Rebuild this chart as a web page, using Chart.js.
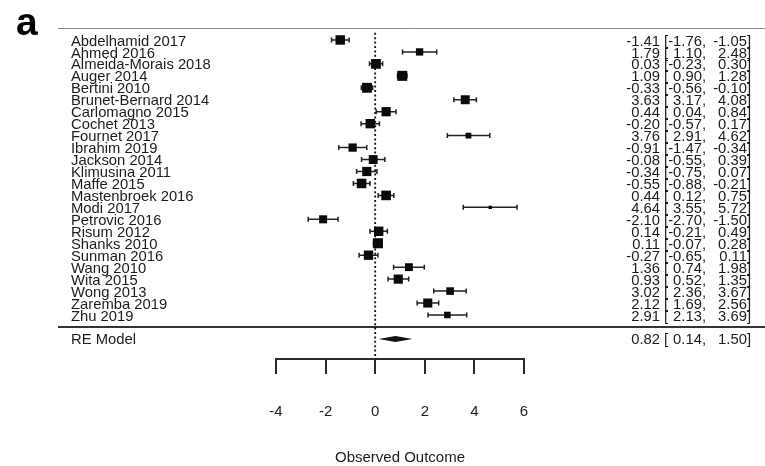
<!DOCTYPE html>
<html>
<head>
<meta charset="utf-8">
<script src="https://cdn.jsdelivr.net/npm/chart.js@4"></script>
<style>
  body { margin: 0; background: #fff; }
  #wrap { width: 765px; height: 466px; }
</style>
</head>
<body>
<div id="wrap"><canvas id="forest" width="765" height="466"></canvas></div>
<script>
// Studies (top to bottom) and their effect sizes with 95% CI
const studies = [
  'Abdelhamid 2017', 'Ahmed 2016', 'Almeida-Morais 2018', 'Auger 2014', 'Bertini 2010',
  'Brunet-Bernard 2014', 'Carlomagno 2015', 'Cochet 2013', 'Fournet 2017', 'Ibrahim 2019',
  'Jackson 2014', 'Klimusina 2011', 'Maffe 2015', 'Mastenbroek 2016', 'Modi 2017',
  'Petrovic 2016', 'Risum 2012', 'Shanks 2010', 'Sunman 2016', 'Wang 2010',
  'Wita 2015', 'Wong 2013', 'Zaremba 2019', 'Zhu 2019'
];
const estimates = [-1.41, 1.79, 0.03, 1.09, -0.33, 3.63, 0.44, -0.20, 3.76, -0.91,
  -0.08, -0.34, -0.55, 0.44, 4.64, -2.10, 0.14, 0.11, -0.27, 1.36,
  0.93, 3.02, 2.12, 2.91];
const lowerCI = [-1.76, 1.10, -0.23, 0.90, -0.56, 3.17, 0.04, -0.57, 2.91, -1.47,
  -0.55, -0.75, -0.88, 0.12, 3.55, -2.70, -0.21, -0.07, -0.65, 0.74,
  0.52, 2.36, 1.69, 2.13];
const upperCI = [-1.05, 2.48, 0.30, 1.28, -0.10, 4.08, 0.84, 0.17, 4.62, -0.34,
  0.39, 0.07, -0.21, 0.75, 5.72, -1.50, 0.49, 0.28, 0.11, 1.98,
  1.35, 3.67, 2.56, 3.69];

// Random-effects summary
const reLabel = 'RE Model';
const reEstimate = [0.82];
const reCI = [0.14, 1.50];

const xTicks = [-4, -2, 0, 2, 4, 6];
const xTitle = 'Observed Outcome';
const panelLetter = 'a';

const FONT = "'Liberation Sans', Arial, sans-serif";
const INK = '#1c1c1c';

// Marker size like metafor: sqrt of RE weights, rescaled to 0.5 .. 1.5
function tamanhosMarcadores() {
  const tau2 = 2.85;
  const w = lowerCI.map((lo, i) => {
    const se = (upperCI[i] - lo) / 3.92;
    return Math.sqrt(1 / (se * se + tau2));
  });
  const min = Math.min(...w), max = Math.max(...w);
  return w.map(v => {
    const ps = (v - min) / (max - min) + 0.5;
    const side = ps * 6.7;
    return side / Math.SQRT2;
  });
}

function textoValor(ctx, v, x, yy, align) {
  ctx.textAlign = align;
  ctx.fillText(v, x, yy);
}

// Draws the whiskers, reference lines, summary diamond and text columns
const forestPlugin = {
  id: 'forest',
  beforeDatasetsDraw(chart) {
    const { ctx, scales: { x, y } } = chart;
    ctx.save();

    // top rule and separator above the summary row
    ctx.strokeStyle = '#8a8a8a';
    ctx.lineWidth = 1;
    ctx.beginPath();
    ctx.moveTo(58, y.getPixelForValue(0) + 0.5);
    ctx.lineTo(765, y.getPixelForValue(0) + 0.5);
    ctx.stroke();

    ctx.strokeStyle = '#333';
    ctx.lineWidth = 2;
    ctx.beginPath();
    ctx.moveTo(58, y.getPixelForValue(25));
    ctx.lineTo(765, y.getPixelForValue(25));
    ctx.stroke();

    // dotted line at zero
    const x0 = x.getPixelForValue(0);
    ctx.strokeStyle = '#111';
    ctx.lineWidth = 1.8;
    ctx.setLineDash([2, 2.4]);
    ctx.beginPath();
    ctx.moveTo(x0, y.getPixelForValue(0.4));
    ctx.lineTo(x0, chart.chartArea.bottom);
    ctx.stroke();
    ctx.setLineDash([]);

    // confidence intervals with end caps
    ctx.strokeStyle = '#222';
    ctx.lineWidth = 1.5;
    studies.forEach((s, i) => {
      const yy = y.getPixelForValue(i + 1);
      const xl = x.getPixelForValue(lowerCI[i]);
      const xu = x.getPixelForValue(upperCI[i]);
      ctx.beginPath();
      ctx.moveTo(xl, yy);
      ctx.lineTo(xu, yy);
      ctx.moveTo(xl, yy - 2.5);
      ctx.lineTo(xl, yy + 2.5);
      ctx.moveTo(xu, yy - 2.5);
      ctx.lineTo(xu, yy + 2.5);
      ctx.stroke();
    });
    ctx.restore();
  },
  afterDatasetsDraw(chart) {
    const { ctx, scales: { x, y } } = chart;
    ctx.save();

    // summary diamond
    const yr = y.getPixelForValue(26);
    ctx.fillStyle = '#111';
    ctx.beginPath();
    ctx.moveTo(x.getPixelForValue(reCI[0]), yr);
    ctx.lineTo(x.getPixelForValue(reEstimate[0]), yr - 3);
    ctx.lineTo(x.getPixelForValue(reCI[1]), yr);
    ctx.lineTo(x.getPixelForValue(reEstimate[0]), yr + 3);
    ctx.closePath();
    ctx.fill();

    // labels and annotation columns
    ctx.fillStyle = INK;
    ctx.font = '14.8px ' + FONT;
    ctx.textBaseline = 'middle';
    const linha = (nome, est, lo, up, v) => {
      const yy = y.getPixelForValue(v) + 1.5;
      textoValor(ctx, nome, 71, yy, 'left');
      textoValor(ctx, est.toFixed(2), 660, yy, 'right');
      textoValor(ctx, '[', 664, yy, 'left');
      textoValor(ctx, lo.toFixed(2) + ',', 706, yy, 'right');
      textoValor(ctx, up.toFixed(2) + ']', 751, yy, 'right');
    };
    studies.forEach((s, i) => linha(s, estimates[i], lowerCI[i], upperCI[i], i + 1));
    linha(reLabel, reEstimate[0], reCI[0], reCI[1], 26);

    // panel letter
    ctx.font = 'bold 39px ' + FONT;
    ctx.textBaseline = 'alphabetic';
    ctx.textAlign = 'left';
    ctx.fillStyle = '#000';
    ctx.fillText(panelLetter, 16, 35);
    ctx.restore();
  }
};

function criarForestPlot() {
  const ctx = document.getElementById('forest').getContext('2d');
  new Chart(ctx, {
    type: 'scatter',
    data: {
      datasets: [{
        data: estimates.map((v, i) => ({ x: v, y: i + 1 })),
        pointStyle: 'rect',
        pointRadius: tamanhosMarcadores(),
        backgroundColor: '#0a0a0a',
        borderWidth: 0
      }]
    },
    options: {
      responsive: false,
      animation: false,
      events: [],
      layout: { padding: { left: 276, right: 241, top: 28, bottom: 0 } },
      plugins: { legend: { display: false }, tooltip: { enabled: false } },
      scales: {
        x: {
          type: 'linear',
          min: xTicks[0],
          max: xTicks[xTicks.length - 1],
          afterBuildTicks: (axis) => { axis.ticks = xTicks.map(v => ({ value: v })); },
          grid: { drawOnChartArea: false, drawTicks: true, tickLength: 15, color: '#2a2a2a', lineWidth: 2 },
          border: { display: true, color: '#2a2a2a', width: 2 },
          ticks: { padding: 29, color: INK, font: { family: FONT, size: 15 } },
          title: { display: true, text: xTitle, color: INK, font: { family: FONT, size: 15, lineHeight: 1 }, padding: { top: 0, bottom: 1 } }
        },
        y: {
          type: 'linear',
          display: false,
          reverse: true,
          min: 0,
          max: 27.68
        }
      }
    },
    plugins: [forestPlugin]
  });
}

window.onload = function () {
  criarForestPlot();
};
</script>
</body>
</html>
